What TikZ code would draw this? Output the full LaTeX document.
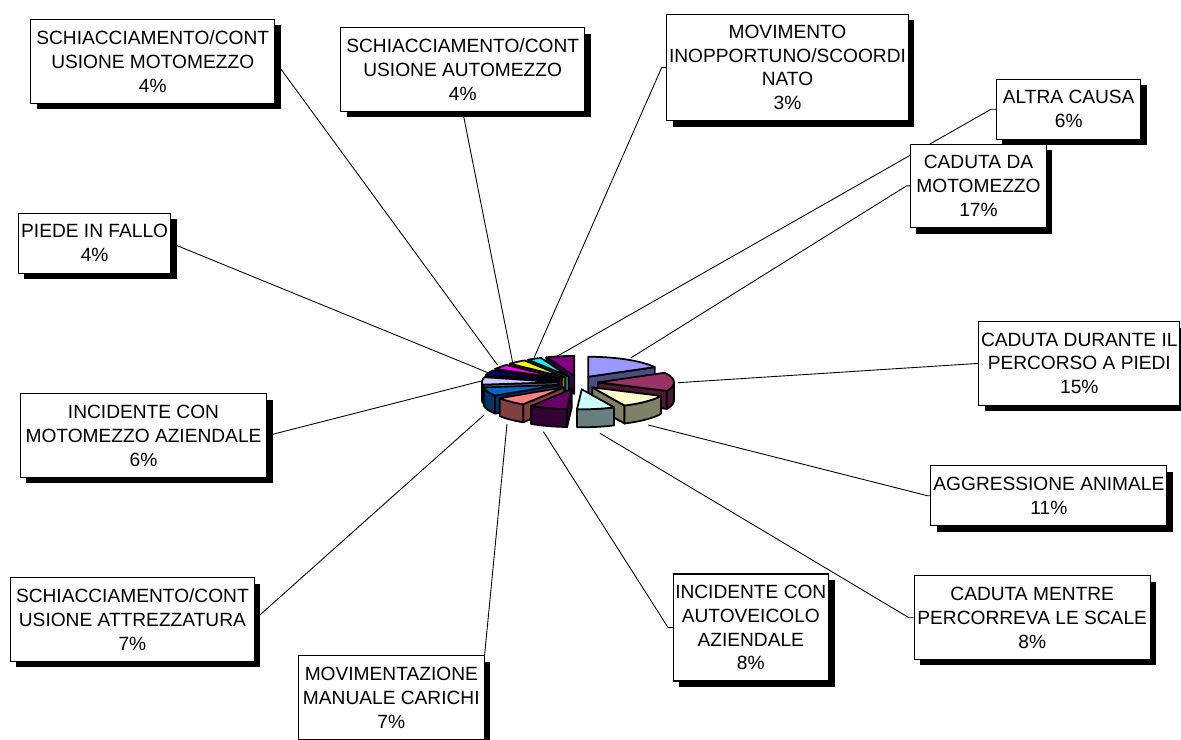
\documentclass[tikz,border=0pt]{standalone}
\usepackage{fontspec}
\setmainfont{Liberation Sans}
\usetikzlibrary{shadows}
\pgfdeclarelayer{background}
\pgfsetlayers{background,main}
\definecolor{sl1}{HTML}{9999FF}
\definecolor{sl2}{HTML}{993366}
\definecolor{sl3}{HTML}{FFFFCC}
\definecolor{sl4}{HTML}{CCFFFF}
\definecolor{sl5}{HTML}{660066}
\definecolor{sl6}{HTML}{FF8080}
\definecolor{sl7}{HTML}{0066CC}
\definecolor{sl8}{HTML}{CCCCFF}
\definecolor{sl9}{HTML}{000080}
\definecolor{sl10}{HTML}{FF00FF}
\definecolor{sl11}{HTML}{FFFF00}
\definecolor{sl12}{HTML}{00FFFF}
\definecolor{sl13}{HTML}{800080}

\begin{document}
\begin{tikzpicture}[x=0.02cm,y=-0.02cm]
    \useasboundingbox (0,0) rectangle (1181,740);
    
    \tikzset{lblbox/.style={draw=black,fill=white,line width=0.6pt,inner sep=0pt,align=center,
        font=\fontsize{10.9}{13.6}\selectfont,
        drop shadow={fill=black,opacity=1,shadow xshift=3.4pt,shadow yshift=-3.4pt}}}
    \tikzset{pieface/.style={draw=black,line width=1pt,line join=round}}
    \tikzset{leader/.style={draw=black,line width=0.5pt}}
    
    \foreach \i/\a/\b/\col/\w/\p/\q in {13/338.4/360/sl13/1/0/0, 12/327.6/338.4/sl12/1/0/0,
        1/0/61.2/sl1/2/0/0, 11/313.2/327.6/sl11/1/0/0, 10/298.8/313.2/sl10/1/0/0,
        9/284.4/298.8/sl9/1/0/0, 8/262.8/284.4/sl8/1/262.8/270, 2/61.2/115.2/sl2/2/90/115.2,
        7/237.6/262.8/sl7/1/237.6/262.8, 3/115.2/154.8/sl3/2/115.2/154.8,
        6/212.4/237.6/sl6/1/212.4/237.6, 5/183.6/212.4/sl5/1/183.6/212.4,
        4/154.8/183.6/sl4/0/154.8/183.6} {
        \pgfmathsetmacro\ox{578+20*sin((\a+\b)/2)}
        \pgfmathsetmacro\oy{382.6-6.8*cos((\a+\b)/2)}
        \ifnum\w=1\relax
            \filldraw[pieface,fill=\col!50!black] (\ox,\oy) -- ({\ox+76*sin(\a)},{\oy-20*cos(\a)}) -- ++(0,18) -- (\ox,{\oy+18}) -- cycle;
        \fi
        \ifnum\w=2\relax
            \filldraw[pieface,fill=\col!50!black] (\ox,\oy) -- ({\ox+76*sin(\b)},{\oy-20*cos(\b)}) -- ++(0,18) -- (\ox,{\oy+18}) -- cycle;
        \fi
        \ifdim\p pt<\q pt\relax
            \filldraw[pieface,fill=\col!50!black] plot[domain=\p:\q,samples=10] ({\ox+76*sin(\x)},{\oy-20*cos(\x)})
                -- plot[domain=\q:\p,samples=10] ({\ox+76*sin(\x)},{\oy-20*cos(\x)+18}) -- cycle;
        \fi
        \filldraw[pieface,fill=\col] (\ox,\oy) -- plot[domain=\a:\b,samples=16] ({\ox+76*sin(\x)},{\oy-20*cos(\x)}) -- cycle;
    }
    
    \coordinate (s1) at (630.7,358);
    \coordinate (s2) at (677.8,382.7);
    \coordinate (s3) at (648.2,425);
    \coordinate (s4) at (600,433.3);
    \coordinate (s5) at (543.4,431.7);
    \coordinate (s6) at (507,424);
    \coordinate (s7) at (484,415);
    \coordinate (s8) at (481.4,381);
    \coordinate (s9) at (488,372.7);
    \coordinate (s10) at (497.5,365);
    \coordinate (s11) at (512.8,363.3);
    \coordinate (s12) at (533.8,358.3);
    \coordinate (s13) at (554,358);
    
    \node[lblbox,minimum width=4.88cm,minimum height=1.68cm] (smoto) at (152.7,61.3) {SCHIACCIAMENTO/CONT\\USIONE MOTOMEZZO\\4\%};
    \node[lblbox,minimum width=4.88cm,minimum height=1.67cm] (sauto) at (462.7,69.4) {SCHIACCIAMENTO/CONT\\USIONE AUTOMEZZO\\4\%};
    \node[lblbox,minimum width=4.83cm,minimum height=2.13cm] (movi) at (787.5,67.4) {MOVIMENTO\\INOPPORTUNO/SCOORDI\\NATO\\3\%};
    \node[lblbox,minimum width=2.89cm,minimum height=1.2cm] (altra) at (1068.7,109.3) {ALTRA CAUSA\\6\%};
    \node[lblbox,minimum width=2.72cm,minimum height=1.67cm] (cmoto) at (978.5,185.9) {CADUTA DA\\MOTOMEZZO\\17\%};
    \node[lblbox,minimum width=3.05cm,minimum height=1.2cm] (piede) at (94.6,243.3) {PIEDE IN FALLO\\4\%};
    \node[lblbox,minimum width=4.02cm,minimum height=1.67cm] (cpiedi) at (1079.3,363.4) {CADUTA DURANTE IL\\PERCORSO A PIEDI\\15\%};
    \node[lblbox,minimum width=4.93cm,minimum height=1.67cm] (imoto) at (143.5,435.7) {INCIDENTE CON\\MOTOMEZZO AZIENDALE\\6\%};
    \node[lblbox,minimum width=4.72cm,minimum height=1.2cm] (aggr) at (1048.9,495.7) {AGGRESSIONE ANIMALE\\11\%};
    \node[lblbox,minimum width=4.88cm,minimum height=1.67cm] (sattr) at (132.4,619.4) {SCHIACCIAMENTO/CONT\\USIONE ATTREZZATURA\\7\%};
    \node[lblbox,minimum width=3.71cm,minimum height=1.67cm] (mman) at (391.3,697.7) {MOVIMENTAZIONE\\MANUALE CARICHI\\7\%};
    \node[lblbox,minimum width=3.11cm,minimum height=2.14cm] (iauto) at (750.8,627.5) {INCIDENTE CON\\AUTOVEICOLO\\AZIENDALE\\8\%};
    \node[lblbox,minimum width=4.72cm,minimum height=1.67cm] (cscale) at (1032.2,617.7) {CADUTA MENTRE\\PERCORREVA LE SCALE\\8\%};
    
    \begin{pgfonlayer}{background}
        \draw[leader] (smoto.east) -- (s10);
        \draw[leader] (sauto.south) -- (s11);
        \draw[leader] (movi.west) -- ++(-4.5,0) -- (s12);
        \draw[leader] (altra.west) -- ++(-5,0) -- (s13);
        \draw[leader] (cmoto.west) -- ++(-3.5,0) -- (s1);
        \draw[leader] (piede.east) -- (s9);
        \draw[leader] (cpiedi.west) -- (s2);
        \draw[leader] (imoto.east) -- (s8);
        \draw[leader] (aggr.west) -- ++(-3,0) -- (s3);
        \draw[leader] (sattr.east) -- (s7);
        \draw[leader] (mman.north east) -- (s6);
        \draw[leader] (iauto.west) -- ++(-4.5,0) -- (s5);
        \draw[leader] (cscale.west) -- ++(-4.8,0) -- (s4);
    \end{pgfonlayer}
\end{tikzpicture}
\end{document}
